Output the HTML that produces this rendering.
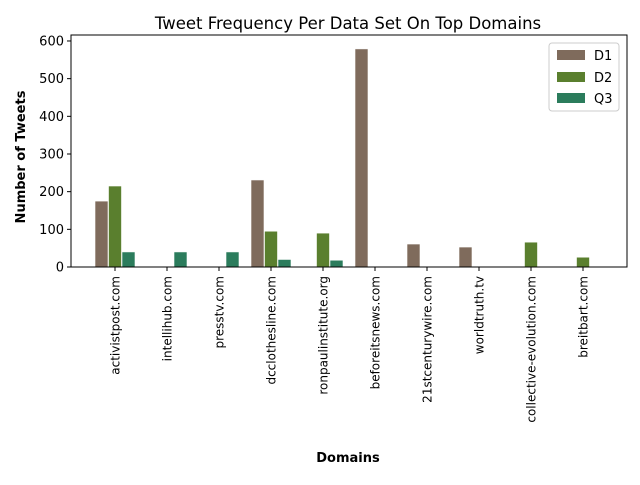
<!DOCTYPE html>
<html><head><meta charset="utf-8"><style>
body{margin:0;background:#fff;}
svg text{font-family:"DejaVu Sans","Liberation Sans",sans-serif;}
</style></head><body>
<svg id="chart" width="640" height="480" viewBox="0 0 640 480" xmlns="http://www.w3.org/2000/svg">
<text x="348" y="29" text-anchor="middle" font-size="16.5">Tweet Frequency Per Data Set On Top Domains</text>
<g id="bars"></g>
<rect x="71" y="35" width="556" height="232" fill="none" stroke="#000" stroke-width="1"/>
<g id="axes"></g>
<text transform="translate(25,157) rotate(-90)" text-anchor="middle" font-size="13" font-weight="bold">Number of Tweets</text>
<text x="348" y="462" text-anchor="middle" font-size="13" font-weight="bold">Domains</text>
<g>
<rect x="549" y="43" width="70" height="68" rx="3" fill="#fff" stroke="#ccc"/>
<rect x="557" y="50" width="28" height="10" fill="#7f6b5c"/>
<text x="594" y="60" font-size="13">D1</text>
<rect x="557" y="72" width="28" height="10" fill="#5a7f2e"/>
<text x="594" y="82" font-size="13">D2</text>
<rect x="557" y="93" width="28" height="10" fill="#2b7c5c"/>
<text x="594" y="103" font-size="13">Q3</text>
</g>
</svg>
<script>
const categories=["activistpost.com","intellihub.com","presstv.com","dcclothesline.com","ronpaulinstitute.org","beforeitsnews.com","21stcenturywire.com","worldtruth.tv","collective-evolution.com","breitbart.com"];
const d1=[175,0,0,231,0,579,61,53,0,0];
const d2=[215,0,0,95,90,0,0,0,66,26];
const q3=[40,40,40,20,18,0,0,0,0,0];
const yTicks=[0,100,200,300,400,500,600];
const NS="http://www.w3.org/2000/svg";
const x0=113,step=52,bw=13;
function xPos(i){return x0+i*step;}
function yPos(v){return 267-v*0.3767;}
const bars=document.getElementById('bars'),axes=document.getElementById('axes');
function mk(tag,attrs,parent){const e=document.createElementNS(NS,tag);for(const k in attrs)e.setAttribute(k,attrs[k]);parent.appendChild(e);return e;}
const series=[[d1,"#7f6b5c","d1",-1],[d2,"#5a7f2e","d2",0],[q3,"#2b7c5c","q3",1]];
series.forEach(([vals,col,nm,off])=>{
  vals.forEach((v,i)=>{
    if(v<=0)return;
    const cx=xPos(i)+off*(bw+0.5)+2;
    const r=mk('rect',{x:cx-bw/2,y:yPos(v),width:bw,height:267-yPos(v),fill:col,stroke:'#fff','stroke-width':0.6},bars);
    
    
  });
});
yTicks.forEach(t=>{
  const y=yPos(t);
  mk('line',{x1:67,x2:71,y1:y,y2:y,stroke:'#000'},axes);
  const tx=mk('text',{x:64,y:y+4.5,'text-anchor':'end','font-size':13},axes);
  tx.textContent=t;
  
  
});
categories.forEach((c,i)=>{
  const x=xPos(i)+2;
  mk('line',{x1:x,x2:x,y1:267,y2:271,stroke:'#000'},axes);
  const tx=mk('text',{transform:`translate(${x+4.5},276) rotate(-90)`,'text-anchor':'end','font-size':12},axes);
  tx.textContent=c;
  
  
});
</script>
</body></html>
